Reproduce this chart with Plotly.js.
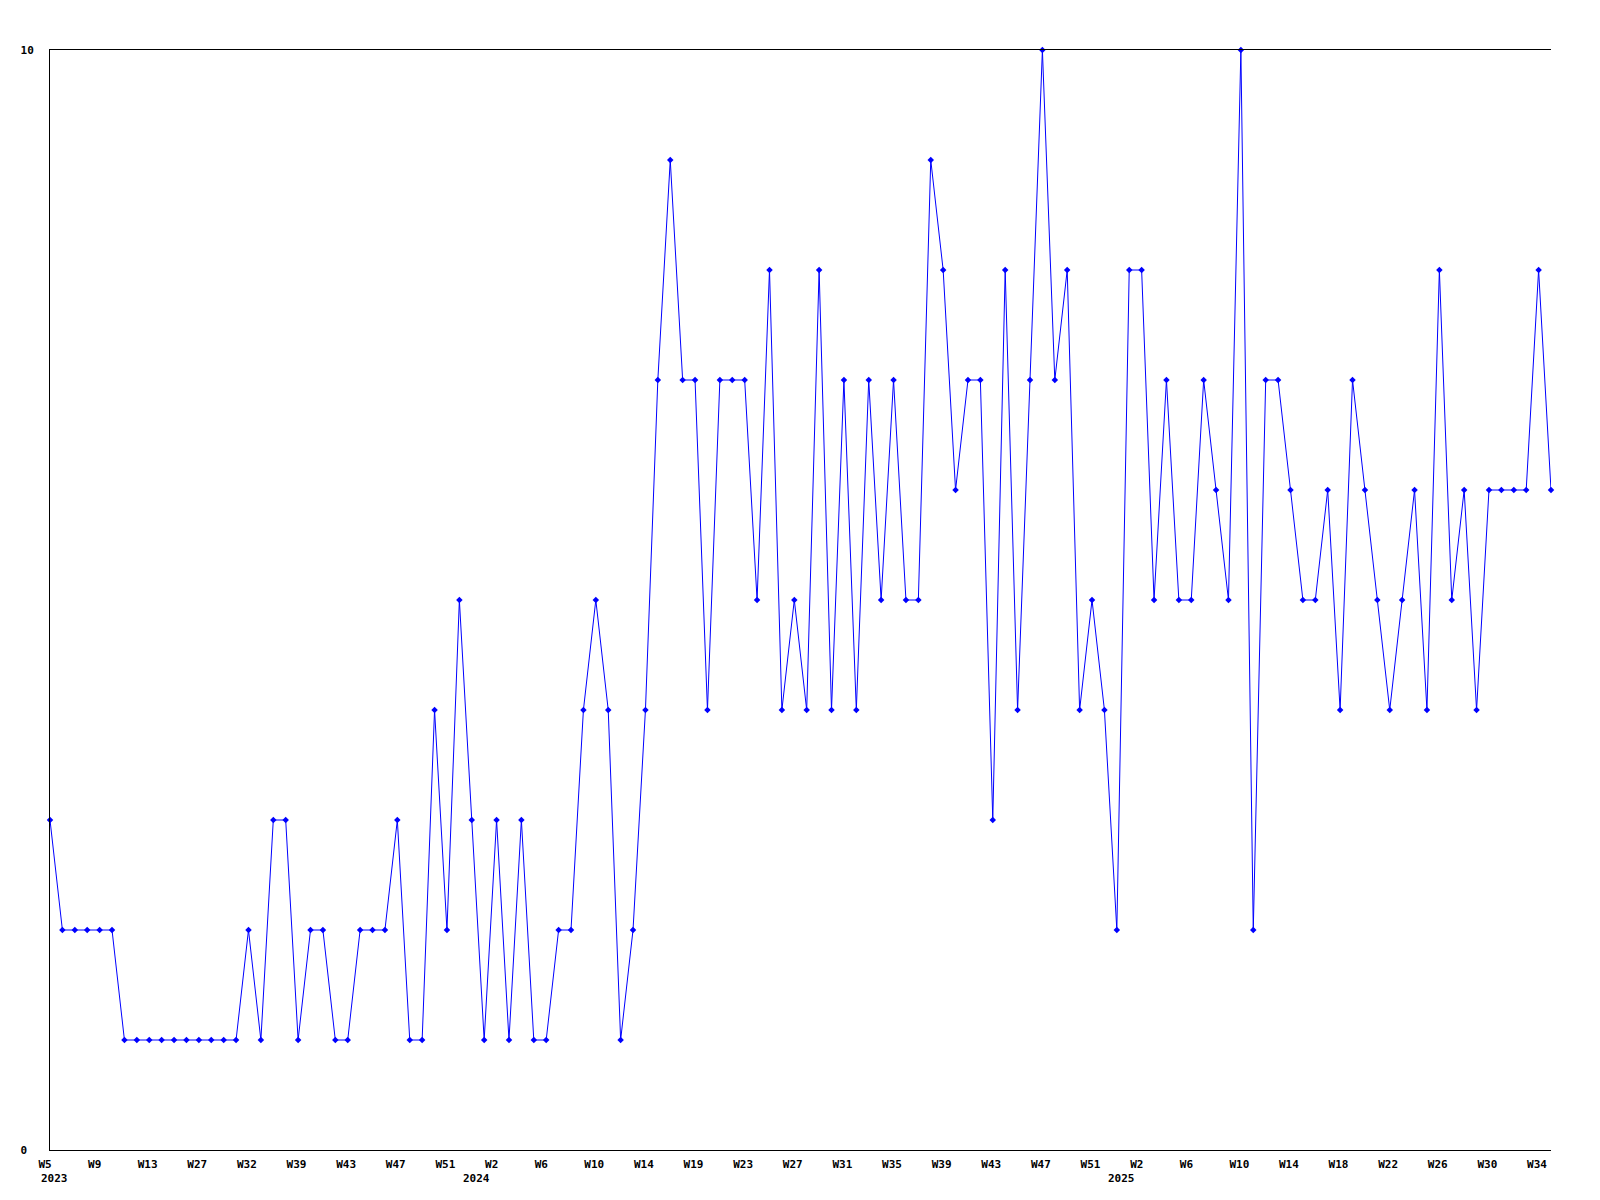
<!DOCTYPE html>
<html>
<head>
<meta charset="utf-8">
<script src="https://cdn.plot.ly/plotly-3.0.1.min.js"></script>
<style>
  html, body { margin: 0; padding: 0; background: #ffffff; }
  #chart { width: 1600px; height: 1200px; }
</style>
</head>
<body>
<div id="chart"></div>
<script>
// Week label of every point (labels between the printed ticks are estimates)
const weeks = [
  "W5","W6","W7","W8","W9","W10","W11","W12","W13","W14","W15","W16",
  "W27","W29","W30","W31","W32","W33","W35","W37","W39","W40","W41","W42",
  "W43","W44","W45","W46","W47","W48","W49","W50","W51","W52","W0","W1",
  "W2","W3","W4","W5","W6","W7","W8","W9","W10","W11","W12","W13",
  "W14","W15","W16","W18","W19","W20","W21","W22","W23","W24","W25","W26",
  "W27","W28","W29","W30","W31","W32","W33","W34","W35","W36","W37","W38",
  "W39","W40","W41","W42","W43","W44","W45","W46","W47","W48","W49","W50",
  "W51","W52","W0","W1","W2","W3","W4","W5","W6","W7","W8","W9",
  "W10","W11","W12","W13","W14","W15","W16","W17","W18","W19","W20","W21",
  "W22","W23","W24","W25","W26","W27","W28","W29","W30","W31","W32","W33",
  "W34","W35"
];

// Series values, one per week
const values = [
  3,2,2,2,2,2,1,1,1,1,1,1,
  1,1,1,1,2,1,3,3,1,2,2,1,
  1,2,2,2,3,1,1,4,2,5,3,1,
  3,1,3,1,1,2,2,4,5,4,1,2,
  4,7,9,7,7,4,7,7,7,5,8,4,
  5,4,8,4,7,4,7,5,7,5,5,9,
  8,6,7,7,3,8,4,7,10,7,8,4,
  5,4,2,8,8,5,7,5,5,7,6,5,
  10,2,7,7,6,5,5,6,4,7,6,5,
  4,5,6,4,8,5,6,4,6,6,6,6,
  8,6
];

// Year labels and the point index where each year starts
const years = ["2023", "2024", "2025"];
const yearStart = [0, 34, 86];

// Every 4th point carries a tick label
const tickEvery = 4;
const yTickVals = [0, 10];
const yTickText = ["0\u00a0", "10"];

const idx = values.map((_, i) => i);
const tickVals = idx.filter(i => i % tickEvery === 0);
const tickText = tickVals.map(i => weeks[i]);

const labelFont = { family: "DejaVu Sans Mono", size: 11, color: "#000000", weight: "bold" };

const trace = {
  type: "scatter",
  mode: "lines+markers",
  x: idx,
  y: values,
  text: weeks,
  line: { color: "#0000ff", width: 1 },
  marker: { color: "#0000ff", size: 5, symbol: "diamond" },
  cliponaxis: false,
  hoverinfo: "text+y"
};

const annotations = years.map((yr, k) => ({
  text: yr,
  x: yearStart[k],
  xref: "x",
  y: 0,
  yref: "paper",
  xanchor: "left",
  yanchor: "middle",
  xshift: -11,
  yshift: -28,
  showarrow: false,
  font: labelFont
}));

const layout = {
  width: 1600,
  height: 1200,
  margin: { l: 50, r: 49, t: 50, b: 50 },
  paper_bgcolor: "#ffffff",
  plot_bgcolor: "#ffffff",
  showlegend: false,
  xaxis: {
    range: [0, values.length - 1],
    showline: true,
    mirror: true,
    linecolor: "#000000",
    linewidth: 1,
    showgrid: false,
    zeroline: false,
    ticks: "",
    tickmode: "array",
    tickvals: tickVals,
    ticktext: tickText,
    tickangle: 0,
    tickfont: labelFont,
    ticklabelposition: "outside right",
    ticklabelshift: -12,
    ticklabelstandoff: 4
  },
  yaxis: {
    range: [0, 10],
    showline: true,
    mirror: false,
    linecolor: "#000000",
    linewidth: 1,
    showgrid: false,
    zeroline: false,
    ticks: "",
    tickmode: "array",
    tickvals: yTickVals,
    ticktext: yTickText,
    tickfont: labelFont,
    ticklabelstandoff: 13
  },
  annotations: annotations
};

Plotly.newPlot("chart", [trace], layout, { displayModeBar: false, staticPlot: true });
</script>
</body>
</html>
